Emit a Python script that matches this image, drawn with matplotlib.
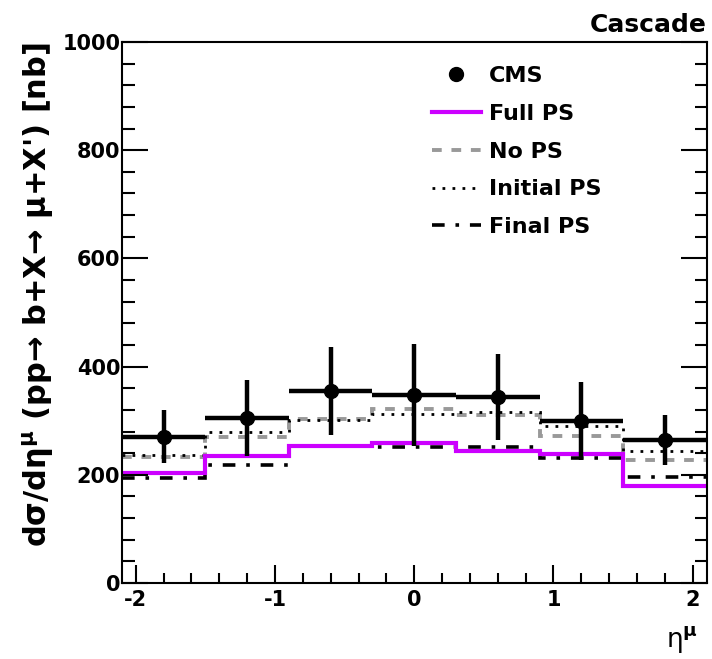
import matplotlib
matplotlib.use("Agg")
import matplotlib.pyplot as plt
from matplotlib.lines import Line2D
import numpy as np

plt.rcParams['font.family'] = ['DejaVu Sans']
plt.rcParams['font.weight'] = 'bold'
plt.rcParams['mathtext.fontset'] = 'custom'
plt.rcParams['mathtext.rm'] = 'DejaVu Sans:bold'
plt.rcParams['mathtext.it'] = 'DejaVu Sans:bold'
plt.rcParams['mathtext.bf'] = 'DejaVu Sans:bold'

edges = [-2.1, -1.5, -0.9, -0.3, 0.3, 0.9, 1.5, 2.1]
centers = [-1.8, -1.2, -0.6, 0.0, 0.6, 1.2, 1.8]
cms = [270, 305, 355, 348, 344, 299, 264]
cms_err = [49, 70, 82, 94, 80, 72, 46]
full_ps = [203, 235, 253, 258, 244, 238, 180]
no_ps = [233, 269, 304, 322, 311, 272, 227]
initial_ps = [237, 279, 302, 313, 317, 290, 244]
final_ps = [194, 219, 254, 252, 251, 231, 196]

MAG = '#cc00ff'
GRAY = '#999999'
ls_no = (0, (2.5, 2.5))
ls_ini = (0, (1, 2.6))
ls_fin = (0, (3.5, 3.0, 1.0, 3.0))

fig = plt.figure(figsize=(7.12, 6.59), dpi=100)
ax = fig.add_axes([0.171, 0.1153, 0.8215, 0.821])

ax.stairs(no_ps, edges, baseline=None, color=GRAY, lw=2.8, linestyle=ls_no)
ax.stairs(initial_ps, edges, baseline=None, color='black', lw=2.0, linestyle=ls_ini)
ax.stairs(final_ps, edges, baseline=None, color='black', lw=2.6, linestyle=ls_fin)
ax.stairs(full_ps, edges, baseline=None, color=MAG, lw=3.0)
xerr = [(edges[i + 1] - edges[i]) / 2 for i in range(len(centers))]
ax.errorbar(centers, cms, yerr=cms_err, xerr=xerr, fmt='o', color='black',
            ms=10, elinewidth=3.2, capsize=0, zorder=5)

ax.set_xlim(-2.1, 2.1)
ax.set_ylim(0, 1000)
ax.set_xticks([-2, -1, 0, 1, 2])
ax.set_xticklabels(['-2', '-1', '0', '1', '2'])
ax.set_xticks(np.arange(-2.0, 2.01, 0.2), minor=True)
ax.set_yticks([0, 200, 400, 600, 800, 1000])
ax.set_yticks(np.arange(0, 1001, 40), minor=True)
ax.tick_params(axis='both', which='both', direction='in', width=1.5,
               labelsize=15, right=True, top=False)
ax.tick_params(axis='y', which='major', length=19)
ax.tick_params(axis='y', which='minor', length=9)
ax.tick_params(axis='x', which='major', length=13)
ax.tick_params(axis='x', which='minor', length=7)
ax.tick_params(axis='x', pad=5)
ax.tick_params(axis='y', pad=1)
for lab in ax.get_xticklabels() + ax.get_yticklabels():
    lab.set_fontweight('bold')
for s in ax.spines.values():
    s.set_linewidth(1.5)

ax.set_ylabel("d\u03c3/d\u03b7$^{\u03bc}$ (pp\u2192 b+X\u2192 \u03bc+X') [nb]",
              fontsize=22, fontweight='bold', loc='top')
ax.yaxis.set_label_coords(-0.112, 1.0)
ax.set_xlabel("\u03b7$^{\u03bc}$", fontsize=19, loc='right', fontweight='normal')
ax.xaxis.set_label_coords(0.985, -0.075)

fig.text(0.993, 0.962, 'Cascade', ha='right', va='center', fontsize=18, fontweight='bold')

labels = ['CMS', 'Full PS', 'No PS', 'Initial PS', 'Final PS']
handles = [Line2D([], [], marker='o', color='black', ls='none', ms=10),
           Line2D([], [], color=MAG, lw=3.0),
           Line2D([], [], color=GRAY, lw=2.8, ls=ls_no),
           Line2D([], [], color='black', lw=2.0, ls=ls_ini),
           Line2D([], [], color='black', lw=2.6, ls=ls_fin)]
ax.legend(handles, labels, loc='upper left', bbox_to_anchor=(0.515, 0.972),
          frameon=False, prop={'weight': 'bold', 'size': 16},
          handlelength=2.2, handletextpad=0.35, labelspacing=0.8,
          borderaxespad=0.0)

fig.savefig('out.png', dpi=100)
